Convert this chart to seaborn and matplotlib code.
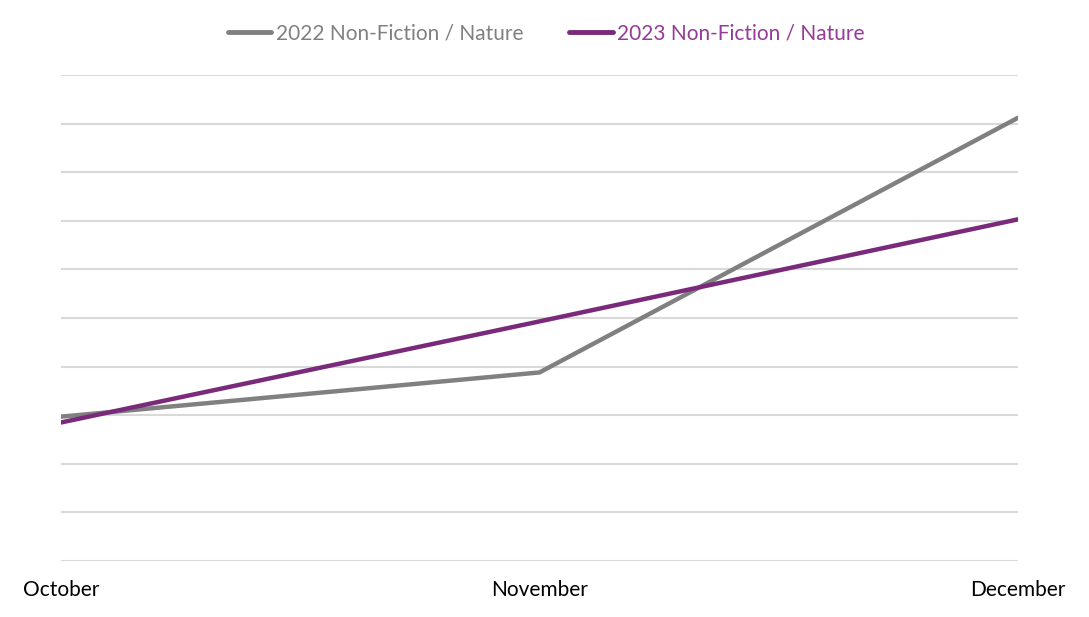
import matplotlib
matplotlib.use("Agg")
import matplotlib.pyplot as plt
import seaborn as sns
import pandas as pd

# Данные, прочитанные с исходного графика
months = ["October", "November", "December"]
series_2022 = [2.97, 3.88, 9.12]
series_2023 = [2.85, 4.93, 7.03]
series_names = ["2022 Non-Fiction / Nature", "2023 Non-Fiction / Nature"]
line_colors = ["#808080", "#7a2a7a"]
text_colors = ["#808080", "#953a98"]

df = pd.DataFrame({
    "month": months * 2,
    "value": series_2022 + series_2023,
    "series": [series_names[0]] * 3 + [series_names[1]] * 3,
})
df["pos"] = df["month"].map({m: i for i, m in enumerate(months)})

sns.set_theme(style="white")
plt.rcParams["font.family"] = ["Lato", "DejaVu Sans"]

fig = plt.figure(figsize=(10.89, 6.17), dpi=100)
ax = fig.add_axes([61 / 1089, 56 / 617, (1018 - 61) / 1089, (561 - 75) / 617])

sns.lineplot(data=df, x="pos", y="value", hue="series", palette=line_colors,
             linewidth=3.2, ax=ax, legend=False, sort=False)

ax.set_xlim(0, 2)
ax.set_ylim(0, 10)
ax.set_yticks(range(0, 11))
ax.set_yticklabels([])
ax.set_xticks(range(len(months)))
ax.set_xticklabels(months, fontsize=15, color="#000000")
ax.tick_params(axis="both", length=0)
ax.tick_params(axis="x", pad=14)
ax.grid(axis="y", color="#d9d9d9", linewidth=1.5)
ax.grid(axis="x", visible=False)
ax.set_axisbelow(True)
ax.set_xlabel("")
ax.set_ylabel("")
for s in ax.spines.values():
    s.set_visible(False)

handles = [plt.Line2D([0], [0], color=c, linewidth=3.5) for c in line_colors]
leg = fig.legend(handles, series_names, loc="center", bbox_to_anchor=(546 / 1089, 1 - 33 / 617),
                 ncol=2, frameon=False, fontsize=15, handlelength=2.1, handletextpad=0.2,
                 columnspacing=2.2)
for t, c in zip(leg.get_texts(), text_colors):
    t.set_color(c)

fig.savefig("out.png", dpi=100)
